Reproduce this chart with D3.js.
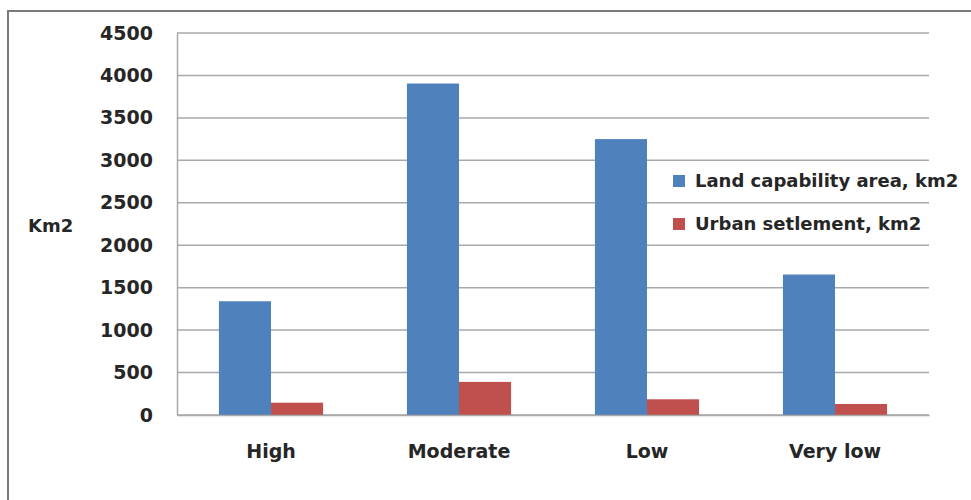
<!DOCTYPE html>
<html>
<head>
<meta charset="utf-8">
<script src="https://cdn.jsdelivr.net/npm/d3@7"></script>
<style>
  body { margin: 0; background: #fff; }
  text { font-family: "DejaVu Sans", sans-serif; font-weight: bold; fill: #262626; }
</style>
</head>
<body>
<div id="chart"></div>
<script>
// categories and series
const categories = ["High", "Moderate", "Low", "Very low"];
const seriesNames = ["Land capability area, km2", "Urban setlement, km2"];
const landArea = [1340, 3905, 3250, 1655];
const urbanArea = [145, 390, 185, 130];
const yTicks = [0, 500, 1000, 1500, 2000, 2500, 3000, 3500, 4000, 4500];
const colors = ["#4f81bd", "#c0504d"];

const width = 971;
const height = 500;
const margin = { top: 33, right: 42, bottom: 85, left: 177 };

const svg = d3.select("#chart")
  .append("svg")
  .attr("width", width)
  .attr("height", height);

// outer frame (only top and left visible in the crop)
svg.append("path")
  .attr("d", `M 8 ${height + 5} V 11 H ${width + 5}`)
  .attr("fill", "none")
  .attr("stroke", "#7a7a7a")
  .attr("stroke-width", 2);

const x0 = d3.scaleBand()
  .domain(categories)
  .range([margin.left, width - margin.right])
  .paddingInner(0.446)
  .paddingOuter(0.223);

const x1 = d3.scaleBand()
  .domain([0, 1])
  .range([0, x0.bandwidth()]);

const y = d3.scaleLinear()
  .domain([0, 4500])
  .range([height - margin.bottom, margin.top]);

// gridlines
svg.append("g")
  .selectAll("line")
  .data(yTicks)
  .join("line")
  .attr("x1", margin.left)
  .attr("x2", width - margin.right)
  .attr("y1", (d) => y(d))
  .attr("y2", (d) => y(d))
  .attr("stroke", "#a9a9a9")
  .attr("stroke-width", 1.5);

// y axis
const yAxis = svg.append("g")
  .attr("transform", `translate(${margin.left},0)`)
  .call(d3.axisLeft(y).tickValues(yTicks).tickFormat(d3.format("d")).tickSize(0).tickPadding(24));
yAxis.select(".domain").attr("stroke", "#a9a9a9").attr("stroke-width", 1.5);
yAxis.selectAll("text")
  .attr("font-family", null)
  .style("font-size", "19px");

// bars
const rows = categories.map((c, i) => ({ cat: c, values: [landArea[i], urbanArea[i]] }));

svg.append("g")
  .selectAll("g")
  .data(rows)
  .join("g")
  .attr("transform", (d) => `translate(${x0(d.cat)},0)`)
  .selectAll("rect")
  .data((d) => d.values.map((v, k) => ({ k, v })))
  .join("rect")
  .attr("x", (d) => x1(d.k))
  .attr("width", x1.bandwidth())
  .attr("y", (d) => y(d.v))
  .attr("height", (d) => y(0) - y(d.v))
  .attr("fill", (d) => colors[d.k]);

// x axis
const xAxis = svg.append("g")
  .attr("transform", `translate(0,${y(0)})`)
  .call(d3.axisBottom(x0).tickSize(0).tickPadding(30));
xAxis.select(".domain").attr("stroke", "#a9a9a9").attr("stroke-width", 1.5);
xAxis.selectAll("text")
  .attr("font-family", null)
  .style("font-size", "19px");

// axis title
svg.append("text")
  .attr("x", 28)
  .attr("y", 232)
  .style("font-size", "18px")
  .text("Km2");

// legend
const legend = svg.append("g")
  .attr("transform", "translate(673,175)")
  .selectAll("g")
  .data(seriesNames)
  .join("g")
  .attr("transform", (d, i) => `translate(0,${i * 43})`);

legend.append("rect")
  .attr("width", 12)
  .attr("height", 12)
  .attr("fill", (d, i) => colors[i]);

legend.append("text")
  .attr("x", 22)
  .attr("y", 6)
  .attr("dy", "0.36em")
  .style("font-size", "18px")
  .text((d) => d);
</script>
</body>
</html>
